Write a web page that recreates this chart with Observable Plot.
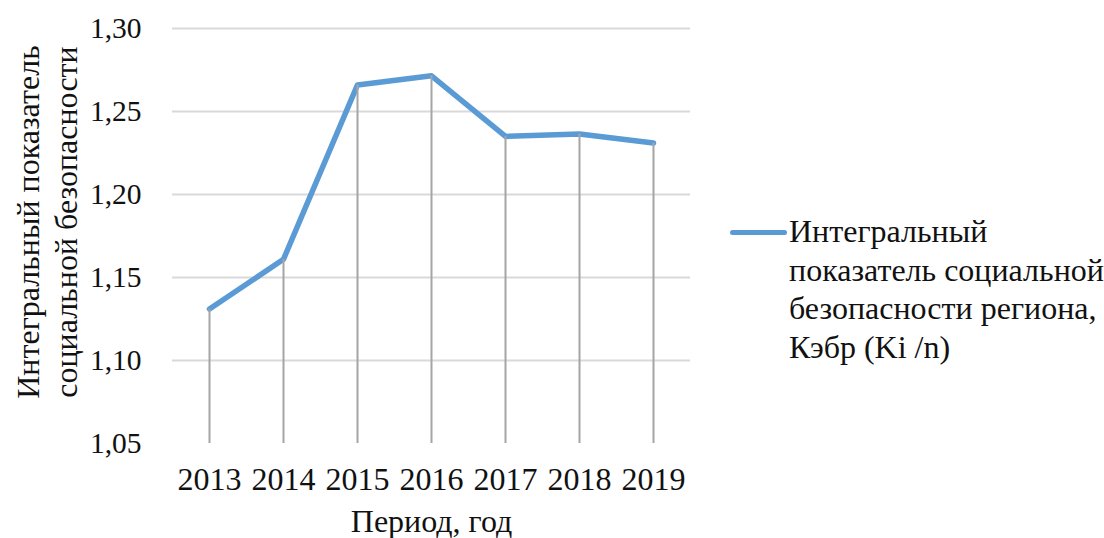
<!DOCTYPE html>
<html>
<head>
<meta charset="utf-8">
<script src="https://cdn.jsdelivr.net/npm/d3@7"></script>
<script src="https://cdn.jsdelivr.net/npm/@observablehq/plot@0.6"></script>
<style>
  html, body { margin: 0; padding: 0; background: #fff; }
  #wrap { position: relative; width: 1104px; height: 538px; overflow: hidden; font-family: "Liberation Serif", "Times New Roman", serif; }
  #legend { position: absolute; left: 730px; top: 210px; display: flex; align-items: flex-start; }
  #legend .sw { width: 57px; height: 5px; background: #5b9bd5; border-radius: 3px; margin-top: 20px; margin-right: 2px; flex: none; }
  #legend .tx { font-size: 32px; line-height: 38.5px; color: #111; margin-top: 2px; white-space: nowrap; }
</style>
</head>
<body>
<div id="wrap"><div id="chart"></div>
<div id="legend"><div class="sw"></div><div class="tx">Интегральный<br>показатель социальной<br>безопасности региона,<br>Кэбр (Ki /n)</div></div>
</div>
<script>
const years = ["2013", "2014", "2015", "2016", "2017", "2018", "2019"];
const values = [1.131, 1.161, 1.266, 1.2715, 1.235, 1.2365, 1.231];
const yTicks = [1.05, 1.10, 1.15, 1.20, 1.25, 1.30];
const yTitle = "Интегральный показатель\nсоциальной безопасности";
const xTitle = "Период, год";

const data = years.map((y, i) => ({year: y, value: values[i]}));
const fmt = d => d.toFixed(2).replace(".", ",");

const chart = Plot.plot({
  width: 1104,
  height: 538,
  marginLeft: 172,
  marginRight: 414,
  marginTop: 28,
  marginBottom: 95,
  style: {fontFamily: "'Liberation Serif', 'Times New Roman', serif", fontSize: "28px", color: "#111", background: "transparent"},
  x: {type: "point", domain: years, padding: 0.5, label: null},
  y: {domain: [1.05, 1.30], label: null},
  marks: [
    Plot.ruleY(yTicks.filter(t => t > 1.05), {stroke: "#d9d9d9", strokeWidth: 2}),
    Plot.axisY({ticks: yTicks, tickFormat: fmt, tickSize: 0, tickPadding: 31, fontSize: 29.5, fill: "#111"}),
    Plot.axisX({tickSize: 0, tickPadding: 24, fontSize: 32, fill: "#111"}),
    Plot.line(data, {x: "year", y: "value", stroke: "#5b9bd5", strokeWidth: 5.5, strokeLinejoin: "round", strokeLinecap: "round"}),
    Plot.ruleX(data, {x: "year", y1: 1.05, y2: "value", stroke: "#a5a5a5", strokeWidth: 2}),
    Plot.text([yTitle], {frameAnchor: "left", rotate: -90, dx: -127, dy: -14, fontSize: 32, fill: "#111", lineHeight: 1.2, textAnchor: "middle"}),
    Plot.text([xTitle], {frameAnchor: "bottom", dy: 88, fontSize: 32, fill: "#111"})
  ]
});
document.getElementById("chart").appendChild(chart);
</script>
</body>
</html>
